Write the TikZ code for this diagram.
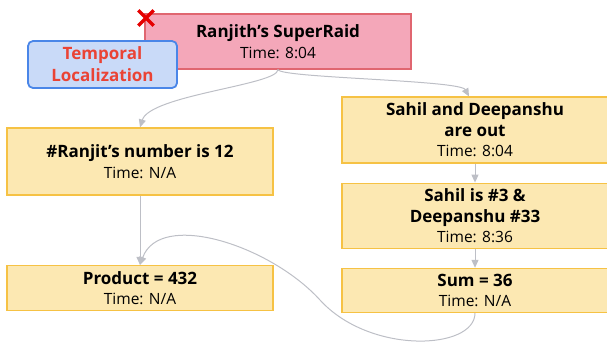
\documentclass[tikz,border=0pt]{standalone}
\usepackage{fontspec}
\setmainfont{Open Sans}
\usetikzlibrary{arrows.meta,positioning}
\definecolor{fact}{HTML}{FCE8B2}
\definecolor{factline}{HTML}{F6C244}
\definecolor{raidfill}{HTML}{F4A7B9}
\definecolor{raidline}{HTML}{E06670}
\definecolor{tagfill}{HTML}{C9DAF8}
\definecolor{tagline}{HTML}{4A86E8}
\definecolor{tagtext}{HTML}{EA4335}
\definecolor{link}{HTML}{BDBFC6}
\newcommand{\hd}[1]{{\fontsize{17}{20}\selectfont\bfseries #1}}

\begin{document}
\begin{tikzpicture}[x=1pt,y=-1pt,node distance=19pt,
n/.style={draw=factline,fill=fact,line width=1.2pt,minimum width=266pt,align=center,inner sep=0pt,font=\fontsize{15.5}{20.5}\selectfont},
a/.style={-{Triangle[length=8pt,width=7pt]},draw=link,line width=1pt}]
\useasboundingbox (0,0) rectangle (607,341);
\node[n,draw=raidline,fill=raidfill,minimum height=55pt](raid) at (278,41.5){\hd{Ranjith’s SuperRaid}\\Time: 8:04};
\node[draw=tagline,fill=tagfill,line width=1.8pt,rounded corners=5pt,minimum width=149pt,minimum height=47pt,inner sep=0pt,align=center,text=tagtext,font=\fontsize{17}{22}\selectfont\bfseries](tag) at (102.5,64.5){Temporal\\Localization};
\node[minimum size=15pt,inner sep=0pt](cross) at (146,18){};
\draw[red!90!black,line width=3.5pt](cross.north west)--(cross.south east)(cross.north east)--(cross.south west);
\node[n,minimum height=67pt](num) at (140,161.5){\hd{\#Ranjit’s number is 12}\\Time: N/A};
\node[n,minimum height=45pt](prod) at (140,288){\hd{Product = 432}\\Time: N/A};
\node[n,minimum height=66pt](out) at (475,130){\hd{Sahil and Deepanshu}\\\hd{are out}\\Time: 8:04};
\node[n,minimum height=65pt,below=of out](jersey){\hd{Sahil is \#3 \&}\\\hd{Deepanshu \#33}\\Time: 8:36};
\node[n,minimum height=44pt,below=of jersey](sum){\hd{Sum = 36}\\Time: N/A};
% links
\draw[a](raid.south) .. controls (278,85) and (150,95) .. (num.north);
\draw[a](raid.south) .. controls (280,78) and (460,80) .. ([xshift=-6pt]out.north);
\draw[a](num)--(prod);\draw[a](out)--(jersey);\draw[a](jersey)--(sum);
\draw[a](sum.south) .. controls (475,350) and (370,355) .. (320,300) .. controls (270,245) and (160,210) .. (prod.north);
\end{tikzpicture}
\end{document}
